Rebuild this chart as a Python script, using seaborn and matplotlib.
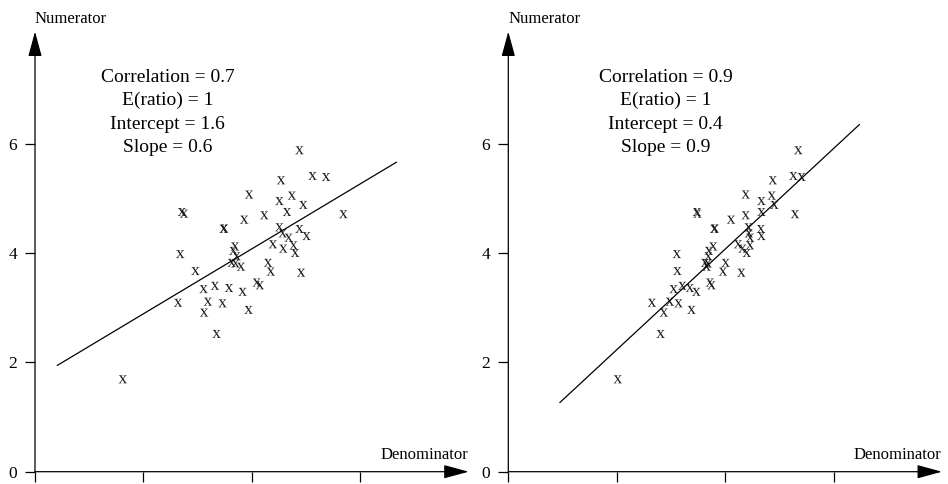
import numpy as np
import pandas as pd
import matplotlib
matplotlib.use("Agg")
import matplotlib.pyplot as plt
import seaborn as sns

# ---------------- data ----------------
numerator = [5.88, 5.33, 5.41, 5.39, 5.07, 4.95, 5.05, 4.88, 4.75, 4.72,
             4.69, 4.75, 4.71, 4.61, 4.44, 4.45, 4.47, 4.44, 4.36, 4.28,
             4.31, 4.16, 4.14, 4.08, 4.00, 4.12, 4.04, 3.94, 3.82, 3.81,
             3.75, 3.98, 3.67, 3.82, 3.66, 3.64, 3.46, 3.41, 3.34, 3.40,
             3.36, 3.29, 3.09, 3.11, 3.08, 2.91, 2.96, 2.52, 1.69]
denominator_left = [4.88, 4.54, 5.12, 5.37, 3.95, 4.51, 4.74, 4.95, 2.71, 2.75,
                    4.23, 4.65, 5.69, 3.86, 3.48, 3.49, 4.51, 4.88, 4.57, 4.68,
                    5.01, 4.39, 4.77, 4.58, 4.80, 3.69, 3.66, 3.72, 3.63, 3.70,
                    3.80, 2.68, 2.96, 4.30, 4.35, 4.91, 4.09, 4.15, 3.11, 3.32,
                    3.58, 3.83, 2.64, 3.19, 3.46, 3.12, 3.94, 3.35, 1.62]
denominator_right = [5.35, 4.88, 5.26, 5.41, 4.38, 4.67, 4.86, 4.91, 3.48, 3.49,
                     4.38, 4.67, 5.29, 4.11, 3.80, 3.81, 4.43, 4.66, 4.44, 4.46,
                     4.67, 4.24, 4.46, 4.32, 4.40, 3.78, 3.70, 3.69, 3.63, 3.68,
                     3.66, 3.11, 3.12, 4.01, 3.96, 4.30, 3.72, 3.75, 3.05, 3.21,
                     3.35, 3.47, 2.65, 2.98, 3.14, 2.87, 3.38, 2.81, 2.02]

# fitted lines: (x start, x end), intercept, slope as drawn
line_x_left = [0.41, 6.67]
intercept_left, slope_left = 1.70, 0.594
line_x_right = [0.95, 6.48]
intercept_right, slope_right = 0.39, 0.92

labels_left = ["Correlation = 0.7", "E(ratio) = 1", "Intercept = 1.6", "Slope = 0.6"]
labels_right = ["Correlation = 0.9", "E(ratio) = 1", "Intercept = 0.4", "Slope = 0.9"]
y_ticks = [0, 2, 4, 6]
x_ticks = [0, 2, 4, 6]

# ---------------- styling ----------------
sns.set_theme(style="white")
plt.rcParams["font.family"] = ["Liberation Serif", "DejaVu Serif"]
plt.rcParams["mathtext.fontset"] = "custom"
plt.rcParams["mathtext.rm"] = "Liberation Serif"

W, H = 948, 484
fig = plt.figure(figsize=(W / 100, H / 100), dpi=100)

x_unit = 54.2
y_unit = 54.67
ax_w = 8 * x_unit
ax_h = 8 * y_unit
bottom_px = H - 471.7

panels = [
    (35.0, denominator_left, line_x_left, intercept_left, slope_left, labels_left, 2.45),
    (508.3, denominator_right, line_x_right, intercept_right, slope_right, labels_right, 2.9),
]

for left_px, denom, lx, b0, b1, labels, text_x in panels:
    ax = fig.add_axes([left_px / W, bottom_px / H, ax_w / W, ax_h / H])
    ax.set_xlim(0, 8)
    ax.set_ylim(0, 8)
    for s in ["top", "right", "left", "bottom"]:
        ax.spines[s].set_visible(False)

    df = pd.DataFrame({"Denominator": denom, "Numerator": numerator})
    sns.scatterplot(data=df, x="Denominator", y="Numerator", ax=ax,
                    marker=r"$\mathrm{x}$", s=36, color="#1a1a1a",
                    edgecolor="none", linewidth=0, legend=False)

    ldf = pd.DataFrame({"x": lx, "y": [b0 + b1 * v for v in lx]})
    sns.lineplot(data=ldf, x="x", y="y", ax=ax, color="black", lw=0.9)

    # axes with arrow heads
    arrow = dict(arrowstyle="-|>,head_length=1.1,head_width=0.3", color="black",
                 lw=0.9, shrinkA=0, shrinkB=0, mutation_scale=14)
    ax.annotate("", xy=(0, 8.05), xytext=(0, 0), xycoords="data",
                arrowprops=arrow, annotation_clip=False)
    ax.annotate("", xy=(8.0, 0), xytext=(0, 0), xycoords="data",
                arrowprops=arrow, annotation_clip=False)

    ax.set_yticks(y_ticks)
    ax.set_yticklabels([str(t) for t in y_ticks])
    ax.set_xticks(x_ticks)
    ax.set_xticklabels([])
    ax.tick_params(axis="both", which="both", direction="out", length=7,
                   width=0.9, color="black", left=True, bottom=True,
                   labelsize=12.5, labelcolor="black", pad=6)
    ax.set_xlabel("")
    ax.set_ylabel("")

    ax.text(0, 8.28, "Numerator", ha="left", va="center", fontsize=12,
            color="black", clip_on=False)
    ax.text(7.99, 0.3, "Denominator", ha="right", va="center", fontsize=12,
            color="black", clip_on=False)

    ax.text(text_x, 6.57, "\n".join(labels), ha="center", va="center",
            fontsize=14, linespacing=1.5, color="black")

fig.savefig("out.png", dpi=100)
